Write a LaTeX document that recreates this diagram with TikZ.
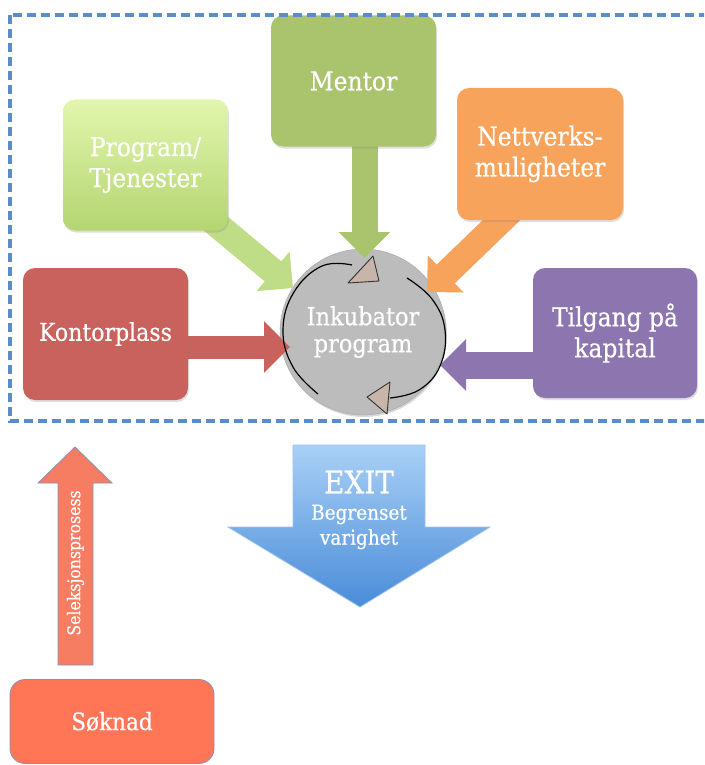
\documentclass[tikz,border=0pt]{standalone}
\usepackage{fontspec}
\setmainfont{DejaVu Serif Condensed}[FakeBold=0.5]
\usetikzlibrary{arrows.meta,shadows,calc}

\definecolor{frameblue}{HTML}{5B8CC9}
\definecolor{mentorgreen}{HTML}{A9C46C}
\definecolor{progtop}{HTML}{E2F6AE}
\definecolor{progbot}{HTML}{B4D571}
\definecolor{progarrow}{HTML}{BFDD86}
\definecolor{nettorange}{HTML}{F7A35C}
\definecolor{kontorred}{HTML}{C9615C}
\definecolor{kapitalpurple}{HTML}{8D75AF}
\definecolor{discgray}{HTML}{BCBCBC}
\definecolor{tritaupe}{HTML}{C8B4A8}
\definecolor{soknadred}{HTML}{FF7656}
\definecolor{selred}{HTML}{F77D62}
\definecolor{edgeblue}{HTML}{8294B8}
\definecolor{exittop}{HTML}{A9D0F6}
\definecolor{exitbot}{HTML}{4A8CD8}
\definecolor{exitedge}{HTML}{9CC2EA}

\pgfdeclarelayer{paper}
\pgfdeclarelayer{disc}
\pgfdeclarelayer{links}
\pgfdeclarelayer{cycle}
\pgfsetlayers{paper,disc,links,main,cycle}

\begin{document}
\begin{tikzpicture}[x=1pt,y=-1pt,
  card/.style={rectangle, rounded corners=12pt, minimum width=165pt,
    minimum height=131pt, inner sep=0pt, text=white, align=center,
    font=\fontsize{26}{31}\selectfont,
    drop shadow={opacity=0.25, shadow xshift=1pt, shadow yshift=-2pt}},
  fat/.style={line width=26pt, -{Triangle[length=26pt,width=50pt]}},
  cyc/.style={line width=1.2pt, black},
  tri/.style={fill=tritaupe, draw=black!80, line width=0.9pt, line join=round},
  frame/.style={draw=frameblue, line width=3.2pt, dash pattern=on 9pt off 5pt}]

\useasboundingbox (0,0) rectangle (704,765);
\clip (0,0) rectangle (704,765);
\begin{pgfonlayer}{paper}
  \fill[white] (0,0) rectangle (704,765);
\end{pgfonlayer}

% central programme disc
\begin{pgfonlayer}{disc}
  \node[circle, minimum size=166pt, inner sep=0pt, fill=discgray,
    draw=gray!70, line width=0.4pt, text=white, align=center,
    font=\fontsize{25}{27}\selectfont,
    drop shadow={opacity=0.3, shadow xshift=1pt, shadow yshift=-2pt}]
    (inkub) at (363,332) {Inkubator\\program};
\end{pgfonlayer}

% resource cards
\node[card, fill=mentorgreen] (mentor) at (353.5,81) {Mentor};
\node[card, top color=progtop, bottom color=progbot] (prog) at (145.5,165) {Program/\\Tjenester};
\node[card, fill=nettorange, minimum width=166pt, minimum height=132pt] (nett) at (540,154) {Nettverks-\\muligheter};
\node[card, fill=kontorred, minimum height=132pt, font=\fontsize{24.5}{31}\selectfont] (kontor) at (105.5,334) {Kontorplass};
\node[card, fill=kapitalpurple, minimum width=164pt, minimum height=130pt] (kapital) at (615,333) {Tilgang på\\kapital};

% arrow tips on the disc
\coordinate (mt) at (364.5,258);
\coordinate (pt) at (293,288);
\coordinate (ot) at (427,292);
\coordinate (kt) at (290,347);
\coordinate (ct) at (440,365);

\begin{pgfonlayer}{links}
  \draw[fat, draw=mentorgreen, fill=mentorgreen] ([xshift=11pt]mentor.center) -- (mt);
  \draw[fat, draw=progarrow, fill=progarrow] (prog.center) -- (pt);
  \draw[fat, draw=nettorange, fill=nettorange] ([yshift=-29pt]nett.center) -- (ot);
  \draw[fat, draw=kontorred, fill=kontorred, line width=23pt] ([yshift=-13pt]kontor.center) -- (kt);
  \draw[fat, draw=kapitalpurple, fill=kapitalpurple, line width=27pt] ([yshift=-32pt]kapital.center) -- (ct);
\end{pgfonlayer}

% circulating arrows around the disc
\begin{pgfonlayer}{cycle}
  \draw[cyc] plot[smooth, tension=0.7] coordinates
    {(318,394) (293,367) (283,330) (294,292) (322,266) (352,265)};
  \draw[cyc] plot[smooth, tension=0.7] coordinates
    {(407,278) (432,299) (445,330) (440,366) (419,390) (390,398)};
  \filldraw[tri] (348,283) -- (379,281) -- (373,256) -- cycle;
  \filldraw[tri] (367,397) -- (390,382) -- (387,414) -- cycle;
\end{pgfonlayer}

% boundary of the incubator
\draw[frame] (10,15) rectangle (730,421);

% exit arrow
\path[top color=exittop, bottom color=exitbot, draw=exitedge, line width=0.8pt]
  (293,445) -- (425,445) -- (425,527) -- (490,527) -- (360,607)
  -- (228,527) -- (293,527) -- cycle;
\node[text=white, font=\fontsize{31}{31}\selectfont] (exit) at (359,482) {EXIT};
\node[text=white, align=center, font=\fontsize{20.5}{25}\selectfont] (exitsub) at (359,527) {Begrenset\\varighet};

% application and selection
\node[rectangle, rounded corners=15pt, minimum width=204pt, minimum height=84pt,
  fill=soknadred, draw=edgeblue, line width=0.8pt, text=white,
  font=\fontsize{24}{30}\selectfont] (soknad) at (112,721.5) {Søknad};
\path[fill=selred, draw=edgeblue, line width=0.8pt]
  (58,665) -- (93,665) -- (93,483) -- (112,483) -- (75,447) -- (38,483) -- (58,483) -- cycle;
\node[rotate=90, text=white, font=\fontsize{17.5}{22}\selectfont] (selek) at (75.5,563) {Seleksjonsprosess};

\end{tikzpicture}
\end{document}
